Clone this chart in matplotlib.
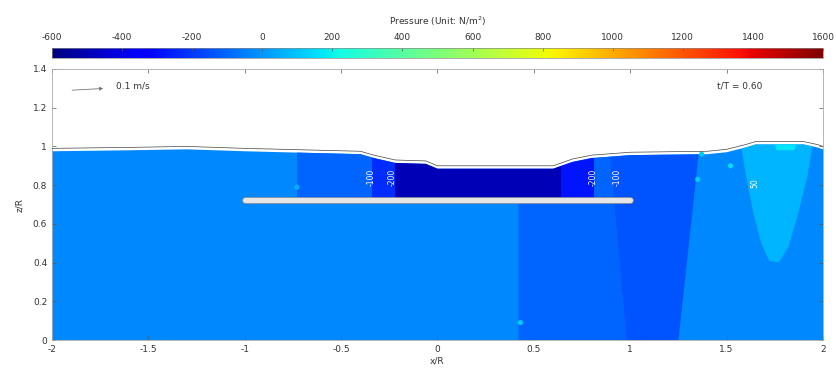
import matplotlib
matplotlib.use("Agg")
import matplotlib.pyplot as plt
import matplotlib.patheffects as pe
from matplotlib.patches import Polygon
from matplotlib.colors import Normalize
from matplotlib.cm import ScalarMappable
import numpy as np

# free surface elevation z/R along x/R
surf_x = [-2.0, -1.6, -1.3, -1.0, -0.6, -0.4, -0.33, -0.22, -0.06, 0.0, 0.6,
          0.7, 0.8, 1.0, 1.4, 1.5, 1.6, 1.65, 1.9, 1.97, 2.0]
surf_y = [0.99, 0.995, 1.0, 0.99, 0.98, 0.975, 0.955, 0.93, 0.925, 0.9, 0.9,
          0.935, 0.955, 0.97, 0.975, 0.985, 1.01, 1.025, 1.025, 1.01, 1.0]

# submerged plate
plate_x = [-1.0, 1.0]
plate_y = [0.725, 0.725]

# pressure regions (N/m^2): background value then patches (x, y, value)
p_background = -25
regions = [
    ([0.42, 0.98, 0.88, 0.81, 0.81, 0.42], [0.0, 0.0, 1.1, 1.1, 0.725, 0.725], -110),
    ([0.98, 1.25, 1.37, 0.88], [0.0, 0.0, 1.1, 1.1], -140),
    ([1.56, 1.60, 1.64, 1.68, 1.72, 1.77, 1.82, 1.87, 1.92, 1.96],
     [1.1, 0.85, 0.65, 0.50, 0.41, 0.40, 0.48, 0.65, 0.85, 1.1], 65),
    ([1.72, 1.76, 1.85, 1.9], [1.1, 0.98, 0.98, 1.1], 170),
    ([-0.73, -0.34, -0.34, -0.73], [0.725, 0.725, 1.1, 1.1], -110),
    ([-0.34, -0.22, -0.22, -0.34], [0.725, 0.725, 1.1, 1.1], -230),
    ([-0.22, 0.64, 0.64, -0.22], [0.725, 0.725, 1.1, 1.1], -490),
    ([0.64, 0.81, 0.81, 0.64], [0.725, 0.725, 1.1, 1.1], -280),
]

# small closed contours
blob_x = [-0.73, 0.43, 1.35, 1.52, 1.37]
blob_y = [0.79, 0.09, 0.83, 0.90, 0.96]
blob_p = [60, 120, 120, 150, 120]

# contour labels
clabel_x = [-0.345, -0.235, 0.805, 0.93, 1.645]
clabel_y = [0.84, 0.84, 0.84, 0.84, 0.81]
clabel_txt = ["-100", "-200", "-200", "-100", "50"]

cbar_ticks = [-600, -400, -200, 0, 200, 400, 600, 800, 1000, 1200, 1400, 1600]

plt.rcParams['font.family'] = 'DejaVu Sans'
plt.rcParams['font.size'] = 7
plt.rcParams['axes.unicode_minus'] = False

cmap = plt.get_cmap('jet')
norm = Normalize(vmin=-600, vmax=1600)

fig = plt.figure(figsize=(8.37, 3.78), dpi=100)
ax = fig.add_axes([52 / 837, 38 / 378, 771 / 837, 271 / 378])

# water domain (field top sits a little below the surface line)
sx = np.array(surf_x)
sy = np.array(surf_y) - 0.015
water_xy = np.column_stack([np.r_[sx, 2.0, -2.0], np.r_[sy, 0.0, 0.0]])
water = Polygon(water_xy, closed=True, facecolor=cmap(norm(p_background)),
                edgecolor='none', zorder=1)
ax.add_patch(water)

for rx, ry, val in regions:
    poly = Polygon(np.column_stack([rx, ry]), closed=True,
                   facecolor=cmap(norm(val)), edgecolor='none', zorder=2)
    ax.add_patch(poly)
    poly.set_clip_path(water)

ax.scatter(blob_x, blob_y, s=14, c=[cmap(norm(v)) for v in blob_p],
           edgecolors='none', zorder=3)

for x, y, t in zip(clabel_x, clabel_y, clabel_txt):
    ax.text(x, y, t, rotation=90, color='white', fontsize=5.5,
            ha='center', va='center', zorder=4)

# free surface line
ax.plot(surf_x, surf_y, color='#444444', lw=0.5, zorder=5)

# plate
ax.plot(plate_x, plate_y, color='#e6e6e6', lw=3.6, solid_capstyle='round',
        zorder=6, path_effects=[pe.Stroke(linewidth=4.8, foreground='#9a9a9a'),
                                pe.Normal()])

# reference velocity arrow
ax.annotate('', xy=(-1.72, 1.30), xytext=(-1.91, 1.29),
            arrowprops=dict(arrowstyle='-|>', color='#777777', lw=0.6,
                            mutation_scale=5))
ax.text(-1.67, 1.31, '0.1 m/s', fontsize=6.5, color='#333333', va='center')
ax.text(1.45, 1.31, 't/T = 0.60', fontsize=6.5, color='#333333', va='center')

ax.set_xlim(-2, 2)
ax.set_ylim(0, 1.4)
ax.set_xticks([-2, -1.5, -1, -0.5, 0, 0.5, 1, 1.5, 2])
ax.set_xticklabels(['-2', '-1.5', '-1', '-0.5', '0', '0.5', '1', '1.5', '2'])
ax.set_yticks([0, 0.2, 0.4, 0.6, 0.8, 1, 1.2, 1.4])
ax.set_yticklabels(['0', '0.2', '0.4', '0.6', '0.8', '1', '1.2', '1.4'])
ax.tick_params(direction='in', top=True, right=True, length=3, width=0.5,
               colors='#555555', labelcolor='#333333', labelsize=6.5)
for s in ax.spines.values():
    s.set_color('#aaaaaa')
    s.set_linewidth(0.6)
ax.set_xlabel('x/R', fontsize=6.5, color='#333333', labelpad=2)
ax.set_ylabel('z/R', fontsize=6.5, color='#333333', labelpad=6)

# colour bar on top
cax = fig.add_axes([52 / 837, (378 - 58) / 378, 771 / 837, 10 / 378])
cb = fig.colorbar(ScalarMappable(norm=norm, cmap=cmap), cax=cax,
                  orientation='horizontal', ticks=cbar_ticks)
cax.xaxis.set_ticks_position('top')
cax.xaxis.set_label_position('top')
cax.tick_params(direction='in', length=2.5, width=0.5, colors='#555555',
                labelcolor='#333333', labelsize=6.5, pad=4)
cb.outline.set_linewidth(0.5)
cb.outline.set_edgecolor('#888888')
cb.set_label('Pressure (Unit: N/m$^2$)', fontsize=6.5, color='#333333',
             labelpad=6)

fig.savefig('out.png', dpi=100)
